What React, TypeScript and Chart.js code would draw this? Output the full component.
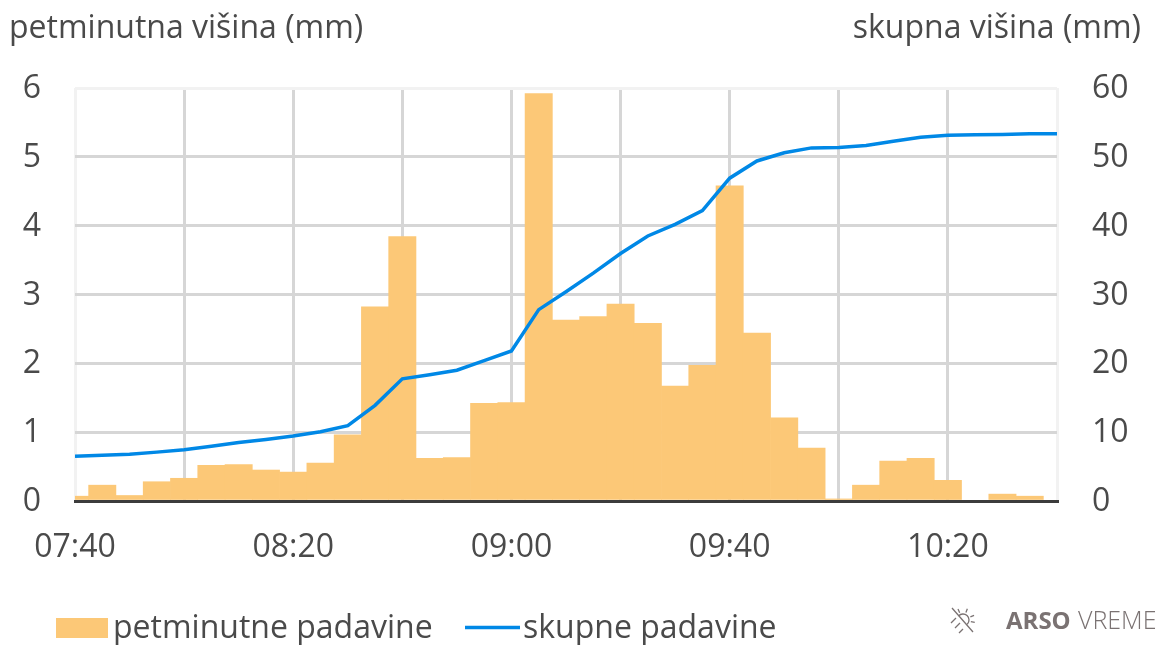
import React, { useEffect, useRef } from "react";
import { Chart, registerables } from "chart.js";

Chart.register(...registerables);

const categories = [
  "07:40","07:45","07:50","07:55","08:00","08:05","08:10","08:15","08:20","08:25","08:30","08:35","08:40",
  "08:45","08:50","08:55","09:00","09:05","09:10","09:15","09:20","09:25","09:30","09:35","09:40","09:45",
  "09:50","09:55","10:00","10:05","10:10","10:15","10:20","10:25","10:30","10:35","10:40",
];
const fiveMinute = [
  0.07,0.23,0.08,0.28,0.33,0.52,0.53,0.45,0.42,0.55,0.96,2.82,3.84,
  0.62,0.63,1.42,1.43,5.92,2.63,2.68,2.86,2.58,1.67,1.97,4.58,2.44,
  1.21,0.77,0.03,0.23,0.58,0.62,0.3,0,0.1,0.07,0,
];
const cumulative = [
  6.5,6.65,6.8,7.1,7.45,7.95,8.5,8.95,9.45,10.05,10.95,13.9,17.75,
  18.35,19.0,20.4,21.8,27.8,30.4,33.1,35.95,38.5,40.2,42.2,46.9,49.4,
  50.6,51.3,51.35,51.65,52.25,52.85,53.15,53.2,53.25,53.35,53.35,
];
const leftTitle = "petminutna višina (mm)";
const rightTitle = "skupna višina (mm)";
const barLabel = "petminutne padavine";
const lineLabel = "skupne padavine";

const FONT = '"Open Sans"';
const TEXT = "#4a4a4a";
const BAR = "#fcc877";
const LINE = "#0088e6";
const GRID = "#d6d6d6";
const FAINT = "#f2f2f2";

const overlay = {
  id: "overlay",
  afterDraw(chart: any) {
    const c = chart.ctx;
    c.save();
    c.fillStyle = TEXT;
    c.textBaseline = "alphabetic";
    c.font = `32px ${FONT}`;
    c.textAlign = "left";
    c.fillText(leftTitle, 9, 38);
    c.textAlign = "right";
    c.fillText(rightTitle, 1141, 38);
    c.textAlign = "left";
    c.fillStyle = BAR;
    c.fillRect(56, 618, 52, 20);
    c.fillStyle = TEXT;
    c.fillText(barLabel, 113, 638);
    c.strokeStyle = LINE;
    c.lineWidth = 3.5;
    c.beginPath();
    c.moveTo(465, 627.5);
    c.lineTo(520, 627.5);
    c.stroke();
    c.fillText(lineLabel, 523, 638);
    // logo
    c.fillStyle = "#7a7272";
    c.font = `bold 24px ${FONT}`;
    c.fillText("ARSO", 1006, 629);
    c.font = `300 25px ${FONT}`;
    c.fillText("VREME", 1078, 629);
    c.strokeStyle = "#7a7272";
    c.lineWidth = 1.3;
    const cx = 963, cy = 620;
    c.beginPath();
    c.arc(cx, cy, 6, -2.4, 0.8);
    c.stroke();
    c.beginPath();
    c.moveTo(952, 608);
    c.lineTo(973, 632);
    c.moveTo(951, 623);
    c.lineTo(956, 618);
    c.moveTo(955, 628);
    c.lineTo(960, 623);
    c.moveTo(959, 633);
    c.lineTo(963, 629);
    for (const a of [-2.0, -1.2, -0.4, 0.2]) {
      c.moveTo(cx + Math.cos(a) * 8, cy + Math.sin(a) * 8);
      c.lineTo(cx + Math.cos(a) * 12, cy + Math.sin(a) * 12);
    }
    c.stroke();
    c.restore();
  },
};

export default function App() {
  const ref = useRef<HTMLCanvasElement>(null);
  useEffect(() => {
    document.body.style.margin = "0";
    const chart = new Chart(ref.current!, {
      data: {
        labels: categories,
        datasets: [
          {
            type: "line",
            label: lineLabel,
            data: cumulative,
            yAxisID: "y1",
            borderColor: LINE,
            borderWidth: 3.5,
            pointRadius: 0,
            tension: 0,
            order: 1,
          },
          {
            type: "bar",
            label: barLabel,
            data: fiveMinute,
            yAxisID: "y",
            backgroundColor: BAR,
            barPercentage: 1,
            categoryPercentage: 1,
            order: 2,
          },
        ],
      } as any,
      options: {
        responsive: false,
        animation: false,
        layout: { padding: { top: 88, left: 0, right: 0, bottom: 0 } },
        plugins: { legend: { display: false }, tooltip: { enabled: false } },
        scales: {
          x: {
            type: "category",
            offset: false,
            afterFit: (s: any) => { s.height = 144; },
            grid: {
              offset: false,
              lineWidth: 3,
              drawTicks: false,
              color: (ctx: any) => {
                const i = ctx.index;
                if (i === 0 || i === categories.length - 1) return FAINT;
                return i % 4 === 0 ? GRID : "rgba(0,0,0,0)";
              },
            },
            border: { display: true, color: "#3c3c3c", width: 3, z: 1 },
            ticks: {
              autoSkip: false,
              maxRotation: 0,
              padding: 28,
              color: TEXT,
              font: { family: FONT, size: 32 },
              callback: (_v: any, i: number) => (i % 8 === 0 ? categories[i] : ""),
            },
          },
          y: {
            position: "left",
            min: 0,
            max: 6,
            afterFit: (s: any) => { s.width = 75; },
            grid: {
              lineWidth: 3,
              drawTicks: false,
              color: (ctx: any) => (ctx.tick.value === 6 ? FAINT : ctx.tick.value === 0 ? "rgba(0,0,0,0)" : GRID),
            },
            border: { display: false },
            ticks: { stepSize: 1, padding: 34, labelOffset: 1, color: TEXT, font: { family: FONT, size: 32 } },
          },
          y1: {
            position: "right",
            min: 0,
            max: 60,
            afterFit: (s: any) => { s.width = 109; },
            grid: { display: false, drawTicks: false },
            border: { display: false },
            ticks: { stepSize: 10, padding: 35, labelOffset: 1, color: TEXT, font: { family: FONT, size: 32 } },
          },
        },
      } as any,
      plugins: [overlay],
    });
    return () => chart.destroy();
  }, []);
  return <canvas ref={ref} width={1166} height={645} style={{ display: "block" }} />;
}
